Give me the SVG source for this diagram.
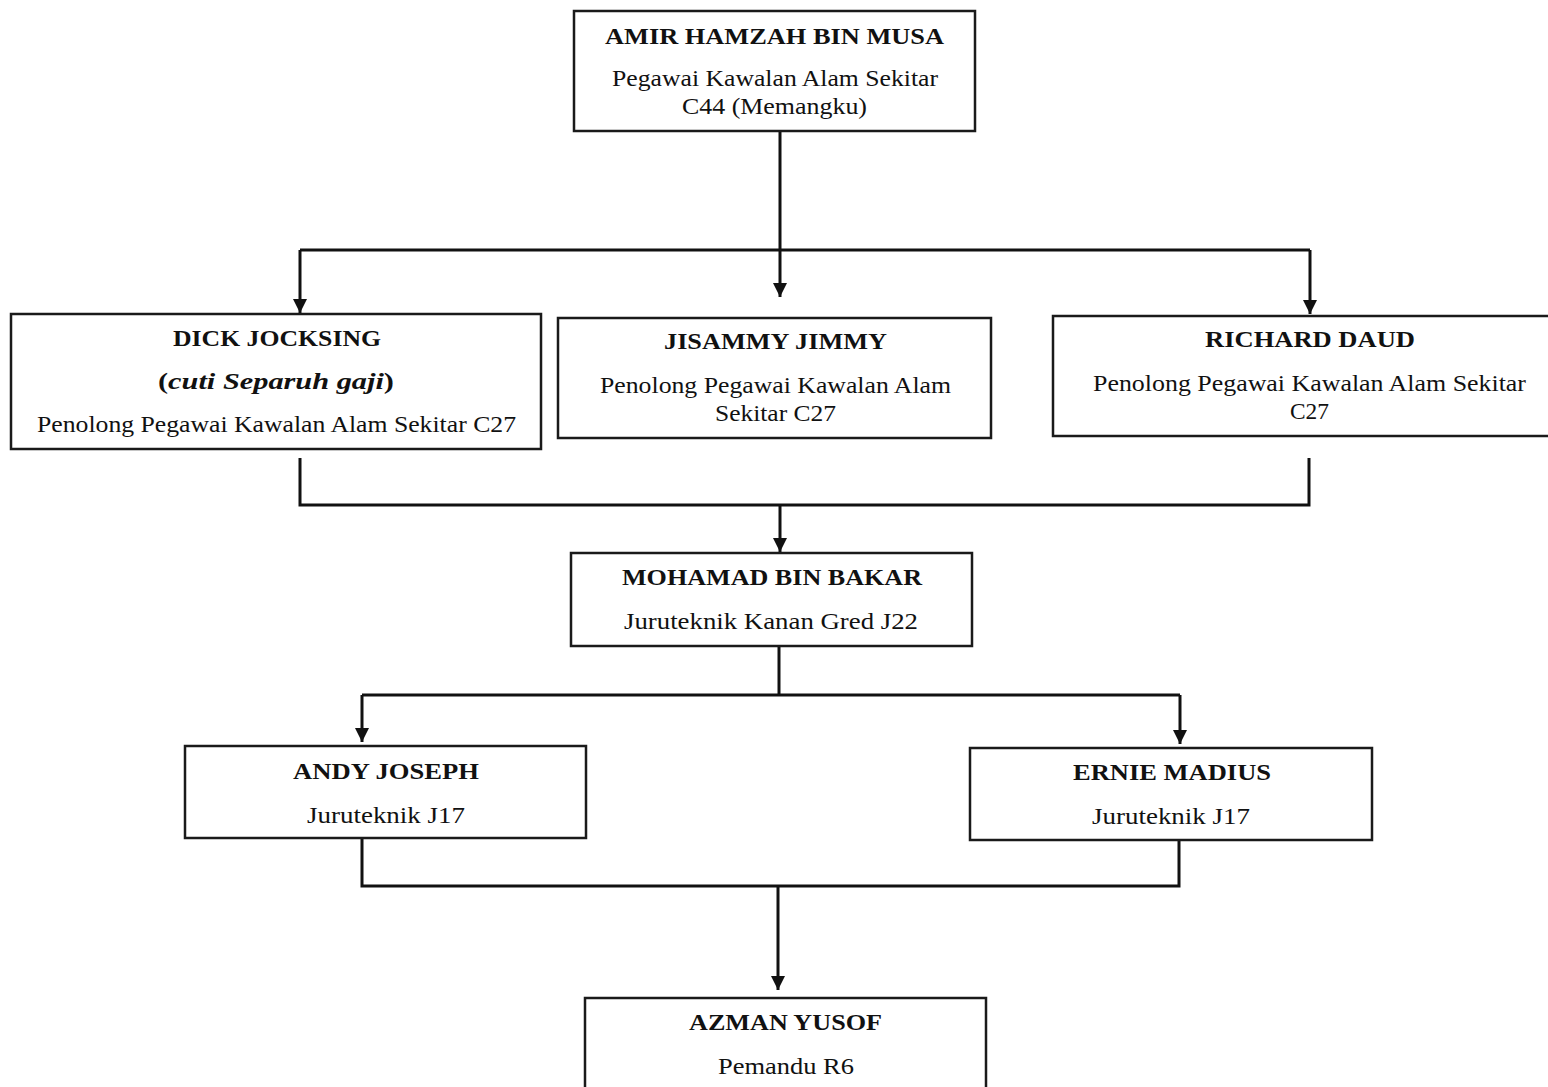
<svg xmlns="http://www.w3.org/2000/svg" width="1548" height="1087" viewBox="0 0 1548 1087">
<style>
.box{fill:#fff;stroke:#1a1a1a;stroke-width:2.5}
.c{fill:none;stroke:#111;stroke-width:3}
.n{font-family:"Liberation Serif","DejaVu Serif",serif;font-weight:bold;font-size:24px;fill:#111}
.t{font-family:"Liberation Serif","DejaVu Serif",serif;font-size:24px;fill:#111}
.i{font-family:"Liberation Serif","DejaVu Serif",serif;font-weight:bold;font-style:italic;font-size:24px;fill:#111}
</style>
<defs>
<marker id="ah" markerUnits="userSpaceOnUse" markerWidth="14" markerHeight="14" refX="14" refY="7" orient="auto">
<path d="M0,0 L14,7 L0,14 z" fill="#111"/>
</marker>
</defs>
<rect width="1548" height="1087" fill="#fff"/>
<g id="connectors">
<path class="c" d="M780,131 V297" marker-end="url(#ah)"/>
<path class="c" d="M300,250 H1310"/>
<path class="c" d="M300,250 V313" marker-end="url(#ah)"/>
<path class="c" d="M1310,250 V314" marker-end="url(#ah)"/>
<path class="c" d="M300,458 V505 H1309 V458"/>
<path class="c" d="M780,505 V552" marker-end="url(#ah)"/>
<path class="c" d="M779,646 V695"/>
<path class="c" d="M362,695 H1180"/>
<path class="c" d="M362,695 V742" marker-end="url(#ah)"/>
<path class="c" d="M1180,695 V744" marker-end="url(#ah)"/>
<path class="c" d="M362,838 V886 H1179 V840"/>
<path class="c" d="M778,886 V990" marker-end="url(#ah)"/>
</g>
<g id="amir">
<rect class="box" x="574" y="11" width="401" height="120"/>
<text class="n" x="605" y="44" textLength="339" lengthAdjust="spacingAndGlyphs">AMIR HAMZAH BIN MUSA</text>
<text class="t" x="612" y="86" textLength="326" lengthAdjust="spacingAndGlyphs">Pegawai Kawalan Alam Sekitar</text>
<text class="t" x="682" y="114" textLength="185" lengthAdjust="spacingAndGlyphs">C44 (Memangku)</text>
</g>
<g id="dick">
<rect class="box" x="11" y="314" width="530" height="135"/>
<text class="n" x="173" y="346" textLength="208" lengthAdjust="spacingAndGlyphs">DICK JOCKSING</text>
<text class="i" x="158" y="389" textLength="236" lengthAdjust="spacingAndGlyphs"><tspan font-style="normal">(</tspan>cuti Separuh gaji<tspan font-style="normal">)</tspan></text>
<text class="t" x="37" y="432" textLength="479" lengthAdjust="spacingAndGlyphs">Penolong Pegawai Kawalan Alam Sekitar C27</text>
</g>
<g id="jisammy">
<rect class="box" x="558" y="318" width="433" height="120"/>
<text class="n" x="664" y="349" textLength="223" lengthAdjust="spacingAndGlyphs">JISAMMY JIMMY</text>
<text class="t" x="600" y="393" textLength="351" lengthAdjust="spacingAndGlyphs">Penolong Pegawai Kawalan Alam</text>
<text class="t" x="715" y="421" textLength="121" lengthAdjust="spacingAndGlyphs">Sekitar C27</text>
</g>
<g id="richard">
<rect class="box" x="1053" y="316" width="500" height="120"/>
<text class="n" x="1205" y="347" textLength="210" lengthAdjust="spacingAndGlyphs">RICHARD DAUD</text>
<text class="t" x="1093" y="391" textLength="433" lengthAdjust="spacingAndGlyphs">Penolong Pegawai Kawalan Alam Sekitar</text>
<text class="t" x="1290" y="419" textLength="39" lengthAdjust="spacingAndGlyphs">C27</text>
</g>
<g id="mohamad">
<rect class="box" x="571" y="553" width="401" height="93"/>
<text class="n" x="622" y="585" textLength="300" lengthAdjust="spacingAndGlyphs">MOHAMAD BIN BAKAR</text>
<text class="t" x="624" y="629" textLength="294" lengthAdjust="spacingAndGlyphs">Juruteknik Kanan Gred J22</text>
</g>
<g id="andy">
<rect class="box" x="185" y="746" width="401" height="92"/>
<text class="n" x="293" y="779" textLength="186" lengthAdjust="spacingAndGlyphs">ANDY JOSEPH</text>
<text class="t" x="307" y="823" textLength="158" lengthAdjust="spacingAndGlyphs">Juruteknik J17</text>
</g>
<g id="ernie">
<rect class="box" x="970" y="748" width="402" height="92"/>
<text class="n" x="1073" y="780" textLength="198" lengthAdjust="spacingAndGlyphs">ERNIE MADIUS</text>
<text class="t" x="1092" y="824" textLength="158" lengthAdjust="spacingAndGlyphs">Juruteknik J17</text>
</g>
<g id="azman">
<rect class="box" x="585" y="998" width="401" height="95"/>
<text class="n" x="689" y="1030" textLength="193" lengthAdjust="spacingAndGlyphs">AZMAN YUSOF</text>
<text class="t" x="718" y="1074" textLength="136" lengthAdjust="spacingAndGlyphs">Pemandu R6</text>
</g>
</svg>
